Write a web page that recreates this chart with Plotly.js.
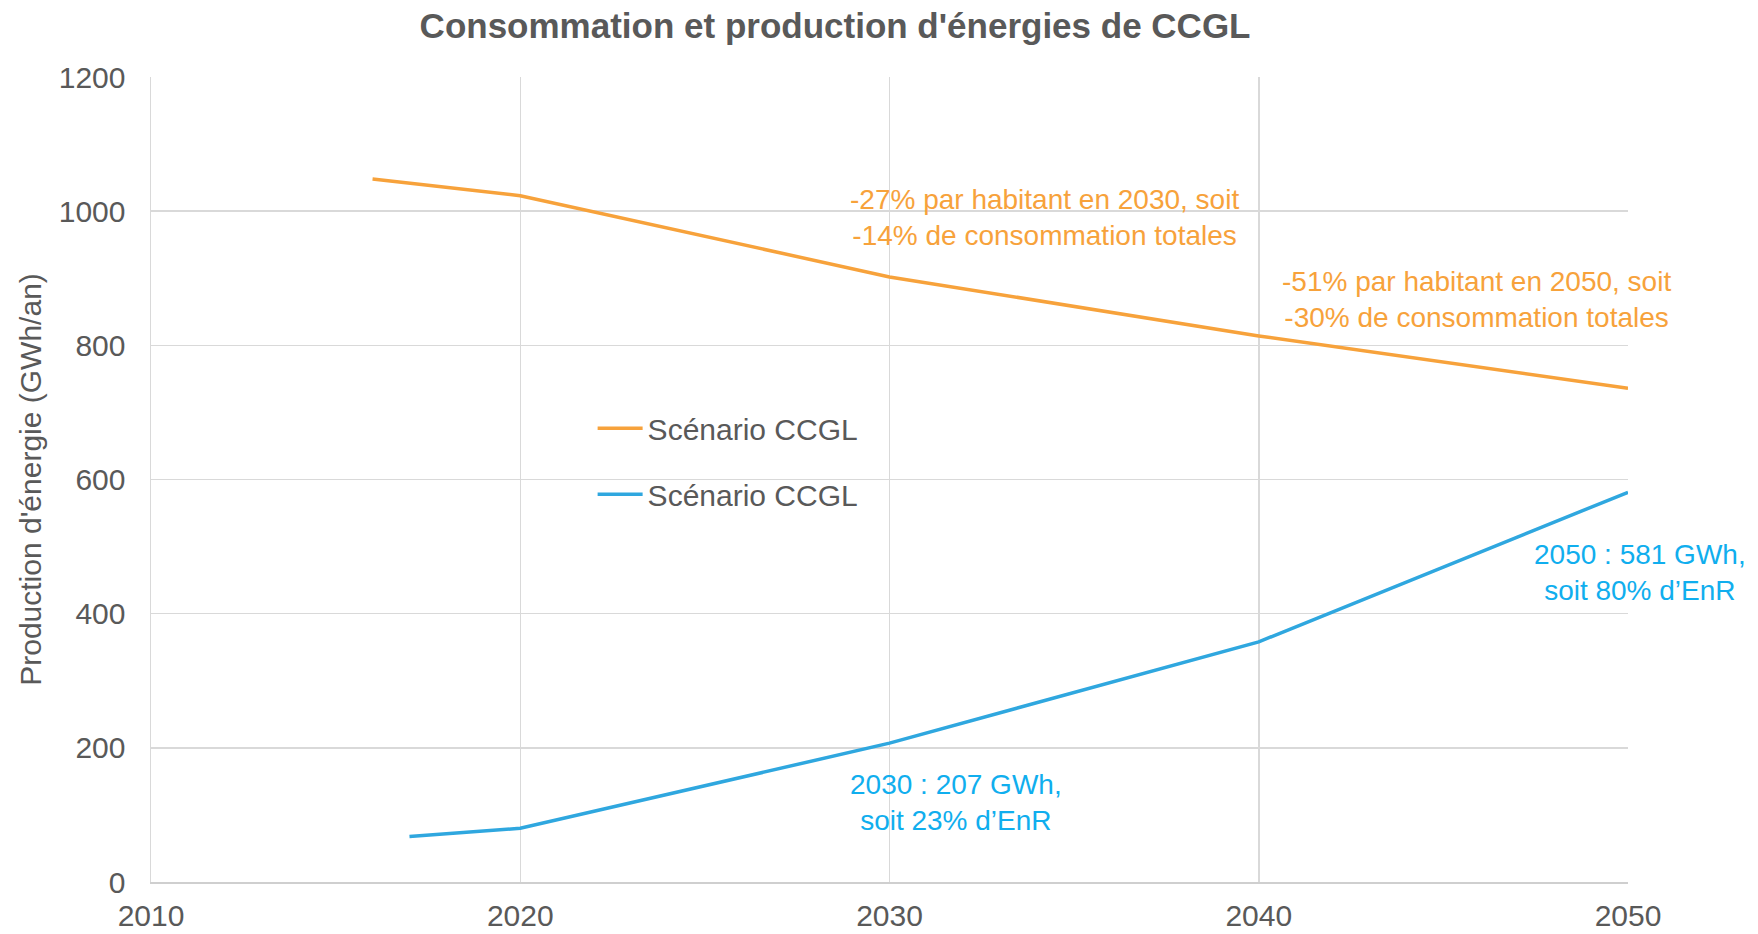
<!DOCTYPE html>
<html>
<head>
<meta charset="utf-8">
<script src="https://cdn.plot.ly/plotly-3.0.1.min.js"></script>
<style>html,body{margin:0;padding:0;background:#fff;}#chart{width:1758px;height:934px;}</style>
</head>
<body>
<div id="chart"></div>
<script>
// Data
const consoYears = [2016, 2020, 2030, 2040, 2050];
const consoValues = [1048, 1023, 902, 814, 736];
const prodYears = [2017, 2020, 2030, 2040, 2050];
const prodValues = [68, 80, 207, 358, 581];
const seriesNames = ["Scénario CCGL", "Scénario CCGL"];
const xTicks = [2010, 2020, 2030, 2040, 2050];
const yTicks = [0, 200, 400, 600, 800, 1000, 1200];
const noteTexts = [
  "-27% par habitant en 2030, soit<br>-14% de consommation totales",
  "-51% par habitant en 2050, soit<br>-30% de consommation totales",
  "2030 : 207 GWh,<br>soit 23% d’EnR",
  "2050 : 581 GWh,<br>soit 80% d’EnR"
];
const noteX = [2034.2, 2045.9, 2031.8, 2050];
const noteY = [991, 868, 118, 462];
const noteShift = [0, 0, 0, 12];

const FONT = "Liberation Sans, Arial, sans-serif";
const ORANGE = "#F7A23B";
const BLUE = "#2FA7DF";
const GREY = "#595959";

const traces = [
  {x: consoYears, y: consoValues, type: "scatter", mode: "lines", name: seriesNames[0],
   line: {color: ORANGE, width: 3.5}, legendgroup: "a"},
  {x: prodYears, y: prodValues, type: "scatter", mode: "lines", name: seriesNames[1],
   line: {color: BLUE, width: 3.5}, legendgroup: "b"}
];

const noteColors = [ORANGE, ORANGE, "#10AEEE", "#10AEEE"];
const annotations = noteTexts.map((t, i) => ({
  x: noteX[i], y: noteY[i], xref: "x", yref: "y", text: t, showarrow: false,
  xshift: noteShift[i],
  xanchor: "center", yanchor: "middle", align: "center",
  font: {family: FONT, size: 28, color: noteColors[i]}
}));

const layout = {
  width: 1758, height: 934,
  paper_bgcolor: "#fff", plot_bgcolor: "#fff",
  margin: {l: 151, r: 130, t: 77, b: 52},
  title: {text: "<b>Consommation et production d'énergies de CCGL</b>",
    font: {family: FONT, size: 35, color: GREY},
    xref: "container", x: 0.475, xanchor: "center", yref: "container", y: 0.972, yanchor: "middle"},
  xaxis: {range: [2010, 2050], tickvals: xTicks, ticktext: xTicks.map(String),
    showgrid: true, gridcolor: "#D9D9D9", gridwidth: 1.5,
    showline: true, linecolor: "#CFCFCF", linewidth: 2, zeroline: false,
    ticks: "", ticklabelstandoff: 6,
    tickfont: {family: FONT, size: 30, color: GREY}},
  yaxis: {range: [0, 1200], tickvals: yTicks,
    showgrid: true, gridcolor: "#D9D9D9", gridwidth: 1.5,
    showline: true, linecolor: "#D9D9D9", linewidth: 1.5, zeroline: false,
    ticks: "", ticklabelstandoff: 18,
    tickfont: {family: FONT, size: 30, color: GREY},
    title: {text: "Production d'énergie (GWh/an)", standoff: 8,
      font: {family: FONT, size: 30, color: GREY}}},
  legend: {x: 0.299, y: 0.596, xanchor: "left", yanchor: "top",
    bgcolor: "rgba(0,0,0,0)", tracegroupgap: 24, itemwidth: 45,
    font: {family: FONT, size: 30, color: GREY}},
  annotations: annotations,
  showlegend: true
};

Plotly.newPlot("chart", traces, layout, {displayModeBar: false, staticPlot: true});
</script>
</body>
</html>
